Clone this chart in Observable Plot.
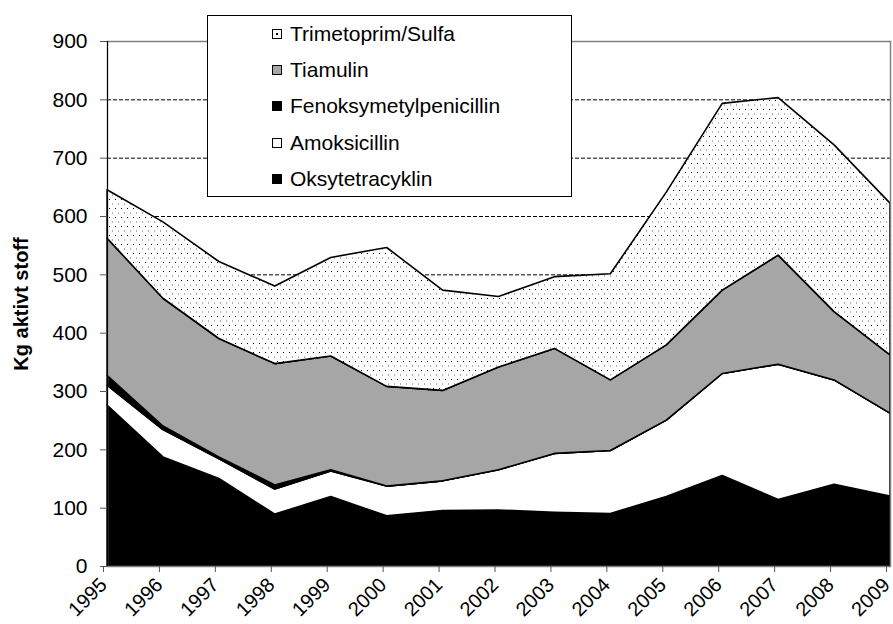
<!DOCTYPE html>
<html>
<head>
<meta charset="utf-8">
<script src="https://cdn.jsdelivr.net/npm/d3@7"></script>
<script src="https://cdn.jsdelivr.net/npm/@observablehq/plot@0.6"></script>
<style>
  body { margin: 0; background: #fff; }
  #wrap { position: relative; width: 893px; height: 624px; font-family: "Liberation Sans", Arial, sans-serif; }
  #wrap svg { display: block; }
  #legend { position: absolute; left: 207px; top: 15px; width: 365px; height: 182px; border: 1px solid #000;
            background: #fff; box-sizing: border-box; }
  .item { position: absolute; left: 64px; height: 20px; font-size: 21px; line-height: 20px; display: flex; align-items: center; color: #000; white-space: nowrap; }
  .sw { width: 10px; height: 10px; border: 1.5px solid #000; box-sizing: border-box; margin-right: 8px; flex: none; }
</style>
</head>
<body>
<div id="wrap"></div>
<script>
const years = [1995, 1996, 1997, 1998, 1999, 2000, 2001, 2002, 2003, 2004, 2005, 2006, 2007, 2008, 2009];
const oksytetracyklin        = [276, 187, 150,  89, 119,  86,  95,  96,  92,  90, 119, 155, 114, 140, 120];
const amoksicillin           = [ 34,  47,  34,  43,  44,  51,  51,  69, 101, 108, 131, 175, 232, 179, 142];
const fenoksymetylpenicillin = [ 17,   6,   3,   7,   2,   0,   0,   0,   0,   0,   0,   0,   0,   0,   0];
const tiamulin               = [235, 219, 203, 208, 195, 171, 155, 176, 180, 121, 129, 143, 187, 117, 100];
const trimetoprimSulfa       = [ 83, 131, 132, 133, 169, 238, 172, 121, 123, 182, 262, 320, 270, 286, 260];

const seriesNames = ["Oksytetracyklin", "Amoksicillin", "Fenoksymetylpenicillin", "Tiamulin", "Trimetoprim/Sulfa"];
const seriesValues = [oksytetracyklin, amoksicillin, fenoksymetylpenicillin, tiamulin, trimetoprimSulfa];
const seriesFills = ["#000000", "#ffffff", "#000000", "#a6a6a6", "url(#dots)"];
const legendOrder = ["Trimetoprim/Sulfa", "Tiamulin", "Fenoksymetylpenicillin", "Amoksicillin", "Oksytetracyklin"];
const yTicks = [0, 100, 200, 300, 400, 500, 600, 700, 800, 900];
const yLabel = "Kg aktivt stoff";

const data = seriesNames.flatMap((s, i) => years.map((yr, j) => ({year: yr, series: s, value: seriesValues[i][j]})));
const stack = {x: "year", y: "value", z: "series", order: seriesNames};

const svg = Plot.plot({
  width: 893,
  height: 624,
  marginLeft: 107,
  marginRight: 3,
  marginTop: 41,
  marginBottom: 58,
  style: {fontFamily: "'Liberation Sans', Arial, sans-serif", fontSize: "21px", color: "#000", background: "#fff"},
  x: {domain: [1995, 2009], label: null},
  y: {domain: [0, 900], label: null},
  color: {domain: seriesNames, range: seriesFills},
  marks: [
    Plot.ruleY(yTicks.filter(d => d > 0 && d < 900), {stroke: "#000", strokeDasharray: "4,2", strokeWidth: 1}),
    Plot.areaY(data, Plot.stackY({...stack, fill: "series", stroke: "#000", strokeWidth: 1.6, strokeLinejoin: "round"})),
    Plot.frame({stroke: "#808080", strokeWidth: 1.5}),
    Plot.ruleX([1995], {stroke: "#000", strokeWidth: 1}),
    Plot.ruleY([0], {stroke: "#808080", strokeWidth: 1}),
    Plot.axisY({ticks: yTicks, tickSize: 7, tickPadding: 13, label: null, stroke: "#555", fontSize: 21}),
    Plot.axisX({ticks: years, tickFormat: d => String(d), tickRotate: -45, tickSize: 6, tickPadding: 9, dx: -4, label: null, stroke: "#555", fontSize: 20}),
    Plot.text([yLabel], {frameAnchor: "left", textAnchor: "middle", rotate: -90, dx: -86, fontWeight: "bold", fontSize: 20})
  ]
});

d3.select(svg).insert("defs", ":first-child").html(
  '<pattern id="dots" width="6" height="9" patternUnits="userSpaceOnUse">' +
  '<rect width="6" height="9" fill="#fff"/>' +
  '<rect x="1" y="1" width="1" height="1" fill="#000"/>' +
  '<rect x="4" y="5.5" width="1" height="1" fill="#666"/>' +
  '</pattern>'
);

const wrap = document.getElementById("wrap");
wrap.appendChild(svg);

const legend = document.createElement("div");
legend.id = "legend";
const rowTops = [8, 44, 80, 117, 153];
legendOrder.forEach((name, k) => {
  const item = document.createElement("div");
  item.className = "item";
  item.style.top = rowTops[k] + "px";
  const sw = document.createElement("span");
  sw.className = "sw";
  const i = seriesNames.indexOf(name);
  if (name === "Trimetoprim/Sulfa") {
    sw.style.background = "radial-gradient(circle, #000 0 1px, #fff 1.2px)";
  } else {
    sw.style.background = seriesFills[i];
  }
  const t = document.createElement("span");
  t.textContent = name;
  item.appendChild(sw);
  item.appendChild(t);
  legend.appendChild(item);
});
wrap.appendChild(legend);
</script>
</body>
</html>
